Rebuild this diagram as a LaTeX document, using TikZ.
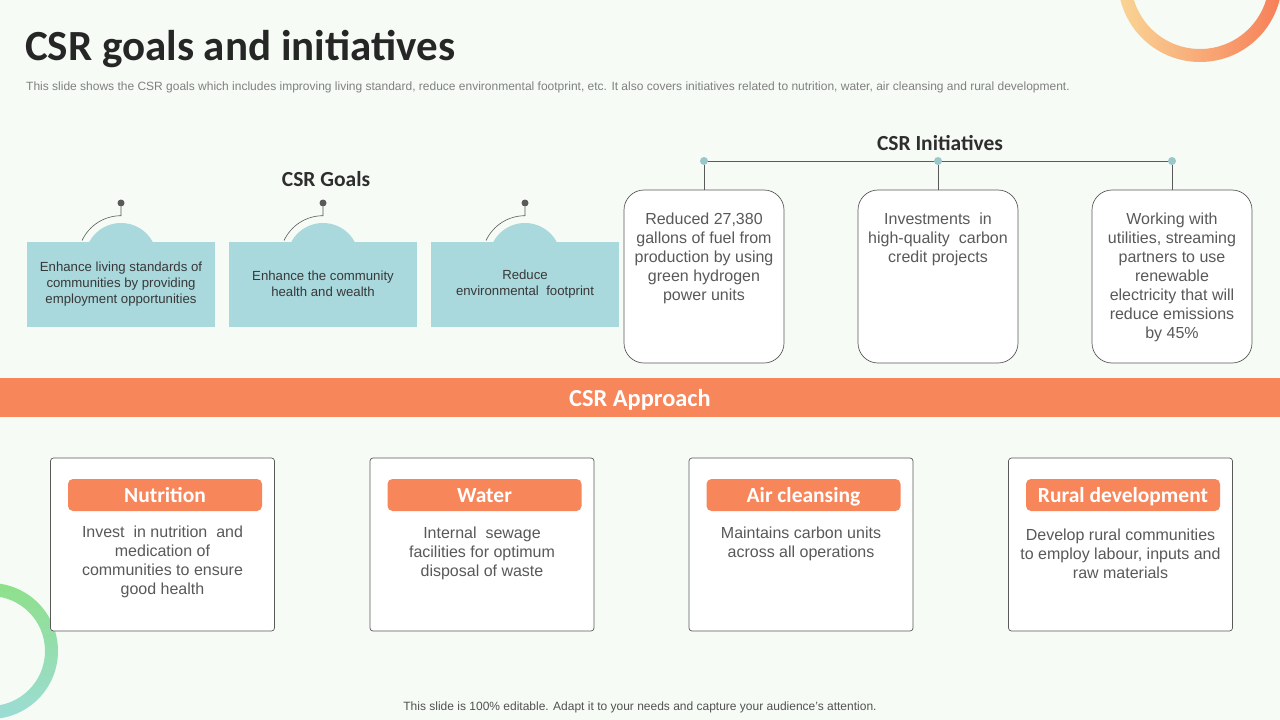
\documentclass[tikz,border=0pt]{standalone}
\usepackage{fontspec}
\setmainfont{Liberation Sans}
\newfontfamily\headfont{Carlito}
\usetikzlibrary{positioning}
\definecolor{slidebg}{HTML}{F6FBF6}
\definecolor{goalblue}{HTML}{A9D8DD}
\definecolor{csrorange}{HTML}{F8865B}
\definecolor{bodygray}{HTML}{595959}
\definecolor{linegray}{HTML}{5A5A5A}
\definecolor{ringyellow}{HTML}{F9D596}
\definecolor{ringorange}{HTML}{F77F58}
\definecolor{ringgreen}{HTML}{8EE08A}
\definecolor{ringteal}{HTML}{9CDCD6}
\tikzset{
  goalbox/.style={fill=goalblue, minimum width=188pt, minimum height=85pt, inner sep=0pt,
    align=center, text=black!78, font=\fontsize{13.2}{16}\selectfont},
  goaldot/.style={circle, fill=linegray, inner sep=0pt, minimum size=7pt},
  initdot/.style={circle, fill=goalblue!92!black, inner sep=0pt, minimum size=8pt},
  initbox/.style={draw=linegray, fill=white, rounded corners=20pt, line width=0.7pt,
    minimum width=160pt, minimum height=173pt},
  bodytext/.style={align=center, text=bodygray, inner sep=0pt, font=\fontsize{16}{19}\selectfont},
  heading/.style={text=black!82, font=\fontsize{21.5}{25}\headfont\bfseries},
  appbox/.style={draw=linegray, fill=white, rounded corners=3pt, line width=0.7pt,
    minimum width=224pt, minimum height=173pt},
  pill/.style={fill=csrorange, rounded corners=5pt, minimum width=194pt, minimum height=32pt,
    inner sep=0pt, text height=17pt, text depth=3pt, text=white, font=\fontsize{21.5}{25}\headfont\bfseries}
}
\begin{document}
\begin{tikzpicture}[x=1pt,y=-1pt]
\fill[slidebg] (0,0) rectangle (1280,720);
\useasboundingbox (0,0) rectangle (1280,720);
\begin{scope}
  \clip (0,0) rectangle (1280,720);
  \path[left color=ringyellow, right color=ringorange, even odd rule]
    (1200,-20) circle (82pt) (1200,-20) circle (69pt);
  \path[top color=ringgreen, bottom color=ringteal, even odd rule]
    (-10,651) circle (68pt) (-10,651) circle (55pt);
\end{scope}

% title
\node[anchor=base west, inner sep=0pt, text=black!85, font=\fontsize{43}{48}\headfont\bfseries]
  (title) at (25,60) {CSR goals and initiatives};
\node[anchor=base west, inner sep=0pt, text=black!50, font=\fontsize{12}{14}\selectfont]
  (subtitle) at (26,90) {This slide shows the CSR goals which includes improving living standard, reduce environmental footprint, etc. It also covers initiatives related to nutrition, water, air cleansing and rural development.};

% goals
\node[heading] (goalhead) at (326,179) {CSR Goals};
\foreach \x/\i/\txt in {121/1/{Enhance living standards of\\communities by providing\\employment opportunities},
                        323/2/{Enhance the community\\health and wealth},
                        525/3/{Reduce\\environmental\ \ footprint}} {
  \fill[goalblue] (\x,259) circle (36pt);
  \node[goalbox] (gb\i) at (\x,284) {\txt};
  \node[goaldot] (gd\i) at (\x,203) {};
  \draw[linegray, line width=0.6pt] (gd\i.south) -- ++(0,9) arc[start angle=90, end angle=155, radius=43pt];
}

% initiatives
\node[heading] (inithead) at (940,143) {CSR Initiatives};
\foreach \x/\i in {704/1,938/2,1172/3}
  \node[initbox] (ib\i) at (\x,276.5) {};
\draw[linegray, line width=0.6pt] (704,161) -- (1172,161);
\foreach \x/\i in {704/1,938/2,1172/3} {
  \node[initdot] (ia\i) at (\x,161) {};
  \draw[linegray, line width=0.6pt] (ia\i) -- (ib\i);
}
\node[bodytext, anchor=north] (it1) at ([yshift=-23pt]ib1.north)
  {Reduced 27,380\\gallons of fuel from\\production by using\\green hydrogen\\power units};
\node[bodytext, anchor=north] (it2) at ([yshift=-23pt]ib2.north)
  {Investments\ \ in\\high-quality\ \ carbon\\credit projects};
\node[bodytext, anchor=north] (it3) at ([yshift=-23pt]ib3.north)
  {Working with\\utilities, streaming\\partners to use\\renewable\\electricity that will\\reduce emissions\\by 45\%};

% approach
\node[fill=csrorange, minimum width=1280pt, minimum height=39pt, inner sep=0pt, text=white,
  text height=20pt, text depth=2.4pt,
  font=\fontsize{24.4}{28}\headfont\bfseries] (band) at (640,397.5) {CSR Approach};
\foreach \x/\i/\lbl/\ty/\txt in {162.5/1/Nutrition/526/{Invest\ \ in nutrition\ \ and\\medication of\\communities to ensure\\good health},
                                 482/2/Water/527/{Internal\ \ sewage\\facilities for optimum\\disposal of waste},
                                 801/3/Air cleansing/527/{Maintains carbon units\\across all operations},
                                 1120.5/4/Rural development/529/{Develop rural communities\\to employ labour, inputs and\\raw materials}} {
  \node[appbox] (ab\i) at (\x,544.5) {};
  \node[pill] (ap\i) at (\x+2.5,495) {\lbl};
  \node[bodytext, anchor=north] (at\i) at (\x,\ty) {\txt};
}

\node[anchor=base, inner sep=0pt, text=black!68, font=\fontsize{12}{14}\selectfont]
  (footer) at (640,710) {This slide is 100\% editable. Adapt it to your needs and capture your audience's attention.};
\end{tikzpicture}
\end{document}
